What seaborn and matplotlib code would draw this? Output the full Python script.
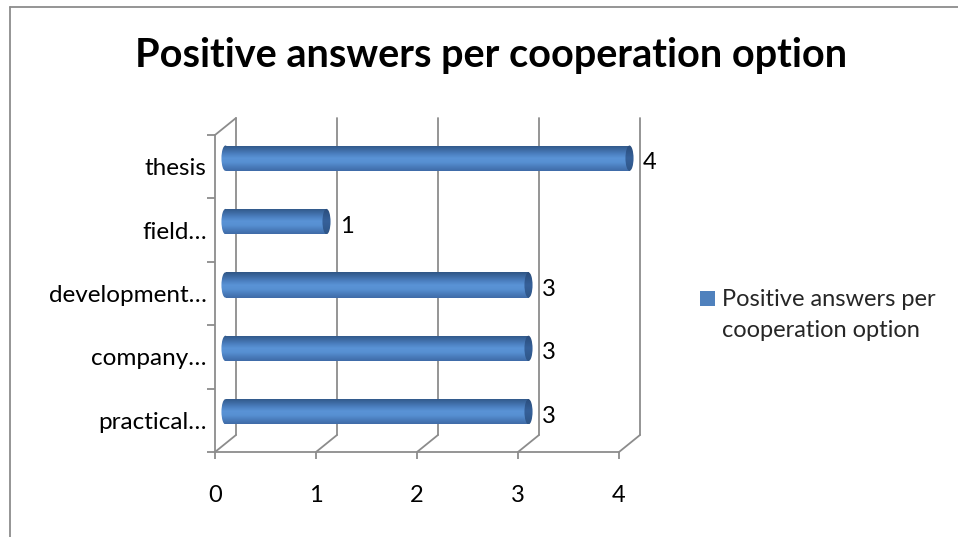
import numpy as np
import pandas as pd
import matplotlib
matplotlib.use("Agg")
import matplotlib.pyplot as plt
import matplotlib.transforms as mtransforms
from matplotlib.patches import Ellipse, Rectangle, ConnectionPatch
from matplotlib.lines import Line2D
from matplotlib.colors import LinearSegmentedColormap
from matplotlib.legend_handler import HandlerPatch
import seaborn as sns

# data
options = ["thesis", "field…", "development…", "company…", "practical…"]
answers = [4, 1, 3, 3, 3]
x_ticks = [0, 1, 2, 3, 4]
series_name = "Positive answers per cooperation option"

sns.set_theme(style="white")
plt.rcParams["font.family"] = ["Lato", "DejaVu Sans"]

W, H = 958, 537
fig = plt.figure(figsize=(W / 100, H / 100), dpi=100)
fig.patch.set_facecolor("white")

# front plane of the pseudo-3D box
ax = fig.add_axes([215 / W, (H - 452) / H, 404 / W, 317 / H])
ax.set_facecolor("none")

grid_col = "#8c8c8c"
bar_col = "#4F81BD"

df = pd.DataFrame({"option": options, "answers": answers})
sns.barplot(data=df, x="answers", y="option", orient="h", width=0.4,
            color=bar_col, saturation=1, ax=ax, zorder=2)
bars = list(ax.patches)

n = len(options)
ax.set_xlim(x_ticks[0], x_ticks[-1])
ax.set_ylim(n - 0.5, -0.5)

# depth offsets (back wall and middle of depth)
back = mtransforms.ScaledTranslation(21 / 100, 17 / 100, fig.dpi_scale_trans)
half = mtransforms.ScaledTranslation(10.5 / 100, 8.5 / 100, fig.dpi_scale_trans)

# back wall gridlines and floor diagonals
for t in x_ticks:
    ax.plot([t, t], [n - 0.5, -0.5], transform=ax.transData + back,
            color=grid_col, lw=1.3, clip_on=False, zorder=0.5)
    ax.add_artist(ConnectionPatch(xyA=(t, n - 0.5), coordsA=ax.transData,
                                  xyB=(t, n - 0.5), coordsB=ax.transData + back,
                                  color=grid_col, lw=1.3, zorder=0.5))
# top edge of left wall
ax.add_artist(ConnectionPatch(xyA=(0, -0.5), coordsA=ax.transData,
                              xyB=(0, -0.5), coordsB=ax.transData + back,
                              color=grid_col, lw=1.3, zorder=0.5))

# cylinder shading
cyl = LinearSegmentedColormap.from_list(
    "cyl", ["#2f5585", "#3d6aa2", "#4b7fbf", "#5a93d6", "#5790d2", "#4a7dbc", "#3f6ba8"])
cap_cm = LinearSegmentedColormap.from_list("cap", ["#2a4c7a", "#36619a", "#2f5688"])
grad = np.linspace(0, 1, 64).reshape(-1, 1)
cap_w = 0.08
for p in bars:
    x0, y0 = p.get_x(), p.get_y()
    w, h = p.get_width(), p.get_height()
    yc = y0 + h / 2
    p.set_transform(ax.transData + half)
    p.set_edgecolor("none")
    p.set_clip_box(fig.bbox)
    # rounded start of the cylinder, same shading as the body
    left = Ellipse((x0, yc), cap_w, h, transform=ax.transData + half,
                   facecolor="none", edgecolor="none", zorder=1.9)
    ax.add_patch(left)
    for clip in (p, left):
        im = ax.imshow(grad, cmap=cyl, aspect="auto",
                       extent=(x0 - cap_w, x0 + w, y0 + h, y0),
                       transform=ax.transData + half, zorder=2.1,
                       interpolation="bicubic")
        im.set_clip_box(fig.bbox)
        im.set_clip_path(clip)
    cap = Ellipse((x0 + w, yc), cap_w, h, transform=ax.transData + half,
                  facecolor="none", edgecolor="none", zorder=2.2)
    ax.add_patch(cap)
    im = ax.imshow(grad, cmap=cap_cm, aspect="auto",
                   extent=(x0 + w - cap_w, x0 + w + cap_w, y0 + h, y0),
                   transform=ax.transData + half, zorder=2.2,
                   interpolation="bicubic")
    im.set_clip_box(fig.bbox)
    im.set_clip_path(cap)

ax.set_xlim(x_ticks[0], x_ticks[-1])
ax.set_ylim(n - 0.5, -0.5)

# value labels
for i, v in enumerate(answers):
    ax.annotate(str(v), xy=(v, i), xytext=(24, 4), textcoords="offset pixels",
                ha="left", va="center", fontsize=17, color="black", zorder=3)

# axes styling
for s in ["top", "right"]:
    ax.spines[s].set_visible(False)
for s in ["left", "bottom"]:
    ax.spines[s].set_color(grid_col)
    ax.spines[s].set_linewidth(1.3)
    ax.spines[s].set_zorder(0.6)

ax.set_xticks(x_ticks)
ax.set_xticklabels([str(t) for t in x_ticks])
ax.set_yticks(range(n))
ax.set_yticklabels(options)
ax.set_yticks(np.arange(-0.5, n, 1.0), minor=True)
ax.tick_params(axis="x", direction="out", length=5, width=1.3, color=grid_col,
               pad=19, labelsize=17, labelcolor="black", bottom=True)
ax.tick_params(axis="y", which="major", length=0, pad=6, labelsize=17.5,
               labelcolor="black")
ax.tick_params(axis="y", which="minor", direction="out", length=5.5, width=1.3,
               color=grid_col, left=True)
ax.set_xlabel("")
ax.set_ylabel("")

# title
fig.text(491 / W, (H - 67) / H, series_name, ha="center", va="baseline",
         fontsize=28.5, fontweight="bold", color="black")


# legend with the square lined up on the first text line
def square_handle(legend, orig_handle, xdescent, ydescent, width, height, fontsize):
    s = 10.8
    return Rectangle((-xdescent + (width - s) / 2, -ydescent + (height - s) / 2 + 12), s, s)


handle = Rectangle((0, 0), 1, 1, facecolor=bar_col, edgecolor="none")
leg = fig.legend([handle], ["Positive answers per\ncooperation option"],
                 loc="center left", bbox_to_anchor=(700 / W, (H - 315) / H),
                 frameon=False, borderpad=0, borderaxespad=0,
                 handlelength=0.64, handletextpad=0.3, fontsize=17,
                 handler_map={Rectangle: HandlerPatch(patch_func=square_handle)})
for t in leg.get_texts():
    t.set_linespacing(1.6)

# outer chart border (left and top edges visible)
fig.add_artist(Line2D([9.5 / W, 9.5 / W], [0, (H - 7) / H], color=grid_col, lw=1.3))
fig.add_artist(Line2D([9.5 / W, 1], [(H - 7) / H, (H - 7) / H], color=grid_col, lw=1.3))

fig.savefig("out.png", dpi=100)
